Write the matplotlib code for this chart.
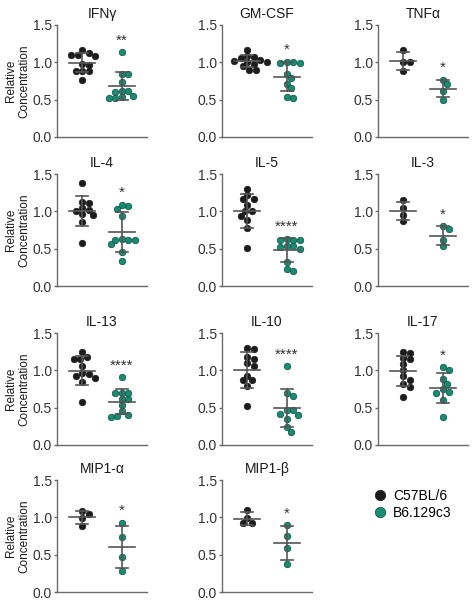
import matplotlib
matplotlib.use("Agg")
import matplotlib.pyplot as plt
from matplotlib.lines import Line2D
import numpy as np

plt.rcParams['font.family'] = ['Liberation Sans', 'DejaVu Sans']

# ---- data ----
panels = ["IFN\u03b3", "GM-CSF", "TNF\u03b1",
          "IL-4", "IL-5", "IL-3",
          "IL-13", "IL-10", "IL-17",
          "MIP1-\u03b1", "MIP1-\u03b2"]

c57 = [
    [1.16, 1.12, 1.10, 1.09, 1.10, 0.98, 0.97, 0.88, 0.88, 0.89, 0.76],
    [1.17, 1.09, 1.06, 1.07, 1.03, 1.01, 1.00, 1.02, 0.98, 0.95, 0.90, 0.90],
    [1.17, 1.01, 1.00, 0.88],
    [1.38, 1.13, 1.11, 1.05, 1.02, 1.00, 0.97, 0.95, 0.86, 0.58],
    [1.30, 1.22, 1.17, 1.16, 1.08, 1.01, 1.00, 0.94, 0.88, 0.78, 0.51],
    [1.15, 1.05, 0.95, 0.87],
    [1.25, 1.18, 1.15, 1.15, 1.06, 0.97, 0.95, 0.93, 0.90, 0.84, 0.58],
    [1.30, 1.29, 1.18, 1.15, 1.10, 1.06, 0.93, 0.87, 0.87, 0.79, 0.52],
    [1.24, 1.23, 1.16, 1.15, 1.08, 1.00, 0.92, 0.87, 0.82, 0.78, 0.64],
    [1.09, 1.04, 0.99, 0.88],
    [1.10, 0.99, 0.92, 0.92],
]
b6 = [
    [1.14, 0.84, 0.84, 0.74, 0.62, 0.60, 0.61, 0.55, 0.54, 0.52, 0.52],
    [1.01, 0.99, 0.99, 1.00, 0.85, 0.79, 0.71, 0.65, 0.52, 0.54],
    [0.77, 0.71, 0.61, 0.50],
    [1.07, 1.09, 1.03, 0.94, 0.63, 0.62, 0.62, 0.61, 0.56, 0.45, 0.33],
    [0.62, 0.62, 0.62, 0.63, 0.54, 0.49, 0.52, 0.54, 0.32, 0.20, 0.23],
    [0.80, 0.76, 0.61, 0.53],
    [0.91, 0.70, 0.69, 0.70, 0.62, 0.62, 0.53, 0.45, 0.40, 0.38, 0.39],
    [1.06, 0.70, 0.66, 0.47, 0.47, 0.40, 0.42, 0.35, 0.24, 0.17],
    [1.04, 1.00, 0.88, 0.82, 0.75, 0.70, 0.71, 0.60, 0.37],
    [0.93, 0.73, 0.47, 0.28],
    [0.90, 0.75, 0.59, 0.37],
]
stars = ["**", "*", "*", "*", "****", "*", "****", "****", "*", "*", "*"]
groups = ["C57BL/6", "B6.129c3"]
yticks = [0.0, 0.5, 1.0, 1.5]

# ---- style ----
BLACK = "#1c1c1c"
TEAL = "#1a8b73"
TEAL_EDGE = "#0b4f41"
LINE = "#555555"
SPINE = "#6a6a6a"

W, H, DPI = 4.72, 6.0, 100
fig = plt.figure(figsize=(W, H), dpi=DPI)

col_left = [57, 222, 378]
row_top = [25, 174, 333, 480]
ax_w, ax_h = 90, 112
xlim = (0.36, 2.64)
ylim = (0.0, 1.5)
dot_d = 6.2  # px


def swarm(vals, px_per_x, px_per_y, d):
    vals = np.asarray(vals, float)
    order = np.argsort(-vals)
    placed = []
    offs = np.zeros(len(vals))
    for i in order:
        y = vals[i] * px_per_y
        best = None
        for k in range(0, 40):
            for s in ([0] if k == 0 else [1, -1]):
                o = s * k * d * 0.35
                ok = all((o - po) ** 2 + (y - py) ** 2 >= (d * 0.95) ** 2 for po, py in placed)
                if ok:
                    best = o
                    break
            if best is not None:
                break
        placed.append((best, y))
        offs[i] = best / px_per_x
    return offs


for idx, name in enumerate(panels):
    r, c = divmod(idx, 3)
    left = col_left[c] / (W * DPI)
    bottom = 1 - (row_top[r] + ax_h) / (H * DPI)
    ax = fig.add_axes([left, bottom, ax_w / (W * DPI), ax_h / (H * DPI)])
    ax.set_xlim(*xlim)
    ax.set_ylim(*ylim)
    ppx = ax_w / (xlim[1] - xlim[0])
    ppy = ax_h / (ylim[1] - ylim[0])
    for gi, (vals, fc, ec) in enumerate([(c57[idx], BLACK, BLACK), (b6[idx], TEAL, TEAL_EDGE)]):
        xc = gi + 1
        offs = swarm(vals, ppx, ppy, dot_d)
        ax.scatter(xc + offs, vals, s=22, c=fc, edgecolors=ec, linewidths=0.5,
                   zorder=2, clip_on=False)
        m = np.mean(vals)
        sd = np.std(vals, ddof=1)
        ax.plot([xc - 0.33, xc + 0.33], [m, m], color=LINE, lw=1.2, zorder=3)
        ax.plot([xc, xc], [m - sd, m + sd], color=LINE, lw=1.2, zorder=3)
        for yy in (m - sd, m + sd):
            ax.plot([xc - 0.15, xc + 0.15], [yy, yy], color=LINE, lw=1.2, zorder=3)
    top = max(max(b6[idx]), np.mean(b6[idx]) + np.std(b6[idx], ddof=1))
    ax.text(2, top + 0.06, stars[idx], ha='center', va='bottom', fontsize=11,
            color="#333333")
    ax.set_title(name, fontsize=10, pad=5, color="#1a1a1a")
    ax.set_yticks(yticks)
    ax.set_yticklabels([f"{t:.1f}" for t in yticks])
    ax.set_xticks([])
    for sp in ("top", "right"):
        ax.spines[sp].set_visible(False)
    for sp in ("left", "bottom"):
        ax.spines[sp].set_color(SPINE)
        ax.spines[sp].set_linewidth(1.0)
    ax.tick_params(axis='y', length=2.5, width=1.0, color=SPINE, pad=1,
                   labelsize=10, labelcolor="#333333")
    if c == 0:
        ax.set_ylabel("Relative\nConcentration", fontsize=8.5, labelpad=2,
                      color="#1a1a1a", linespacing=1.1)

handles = [Line2D([], [], marker='o', ls='none', markersize=7.5, markerfacecolor=BLACK,
                  markeredgecolor=BLACK, markeredgewidth=0.5),
           Line2D([], [], marker='o', ls='none', markersize=7.5, markerfacecolor=TEAL,
                  markeredgecolor=TEAL_EDGE, markeredgewidth=0.5)]
fig.legend(handles, groups, loc='upper left',
           bbox_to_anchor=(372 / (W * DPI), 1 - 489 / (H * DPI)),
           frameon=False, fontsize=10, handletextpad=0.3, labelspacing=0.2,
           handlelength=1.2, borderaxespad=0, borderpad=0)

fig.savefig("out.png", dpi=DPI)
